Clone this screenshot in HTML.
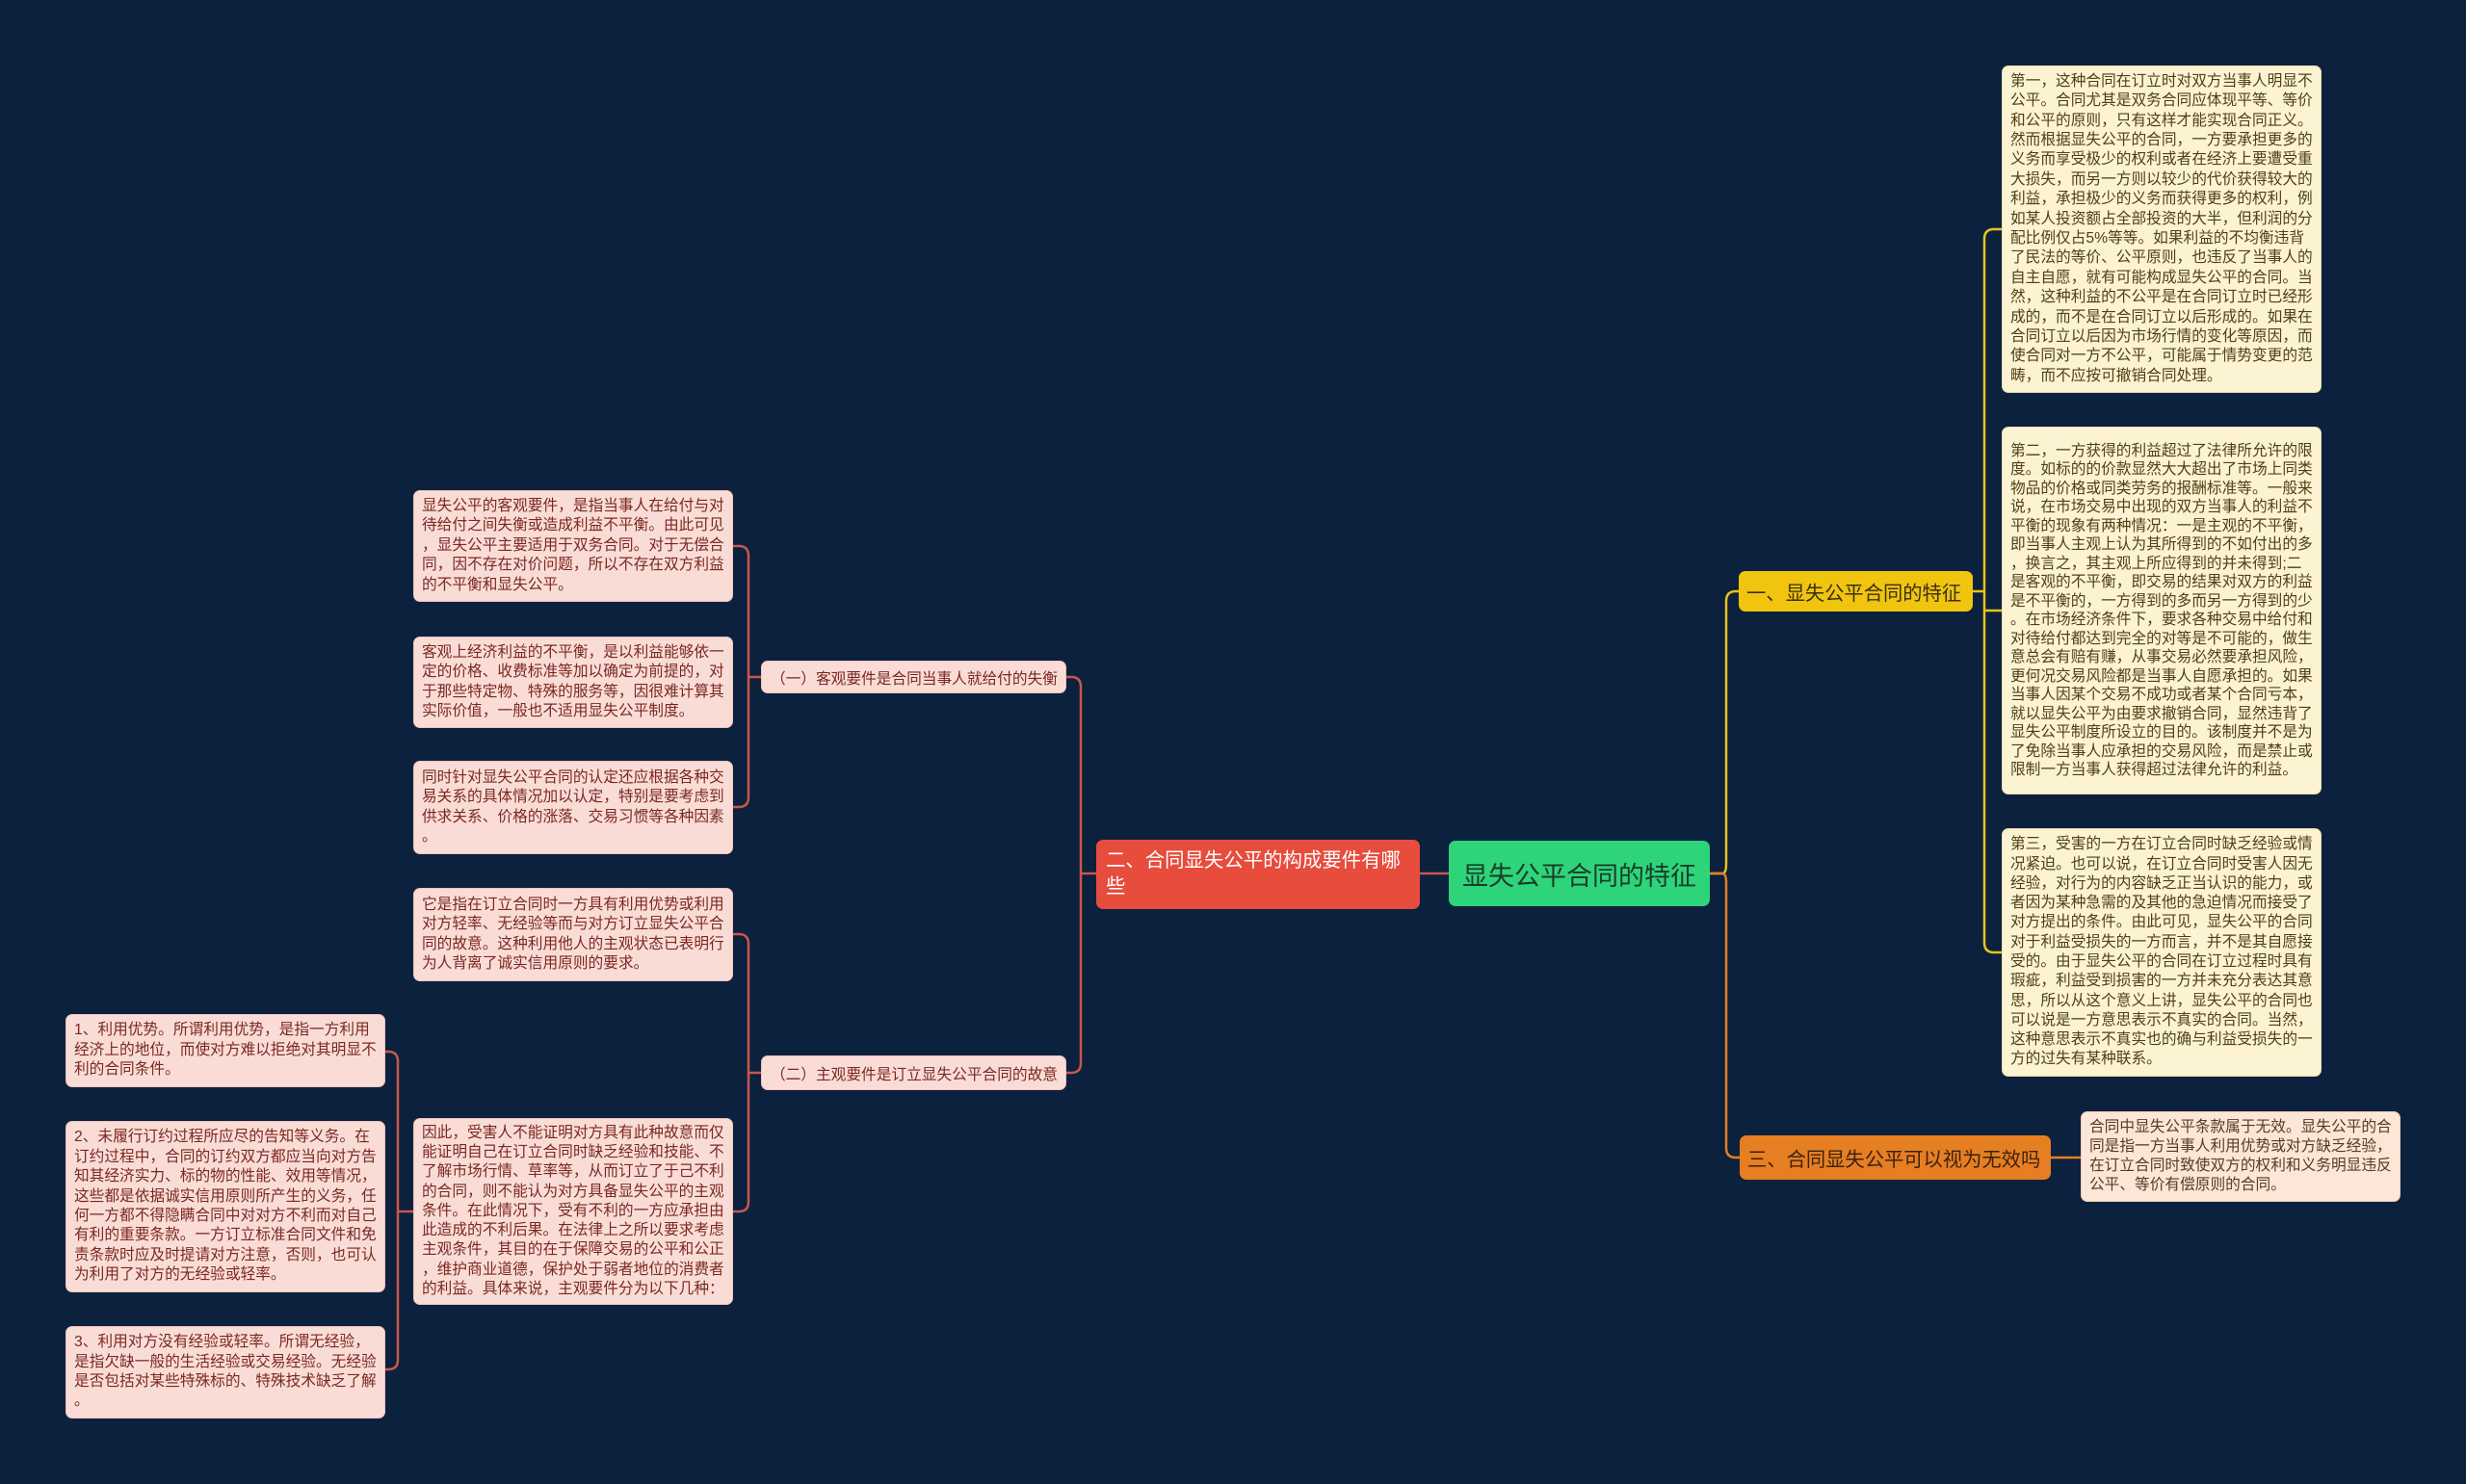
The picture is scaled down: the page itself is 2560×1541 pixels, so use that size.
<!DOCTYPE html>
<html><head><meta charset="utf-8"><style>
body{margin:0;width:2560px;height:1541px;background:#0b213e;position:relative;overflow:hidden;font-family:"Liberation Sans","Noto Sans CJK SC",sans-serif;}
.b{position:absolute;box-sizing:border-box;border-radius:7px;display:flex;flex-direction:column;justify-content:center;white-space:nowrap;font-size:15.7px;padding:0 8px;}
.r{background:#fcf3d2;color:#4f4015;border:1px solid #e8dcae;}
.p{background:#fadcd7;color:#7a2820;border:1px solid #f0c4bd;}
.q{background:#fbe6d8;color:#5a3a20;border:1px solid #eccbb4;}
svg{position:absolute;left:0;top:0}
</style></head><body>
<svg width="2560" height="1541" fill="none" stroke-width="2.5">
<path d="M1775 907 H1788 Q1792 907 1792 897 V624 Q1792 614 1802 614 H1806" stroke="#e8c31a"/>
<path d="M1775 907 H1788 Q1792 907 1792 917 V1192 Q1792 1202 1802 1202 H1806" stroke="#e67e22"/>
<path d="M2048 614 H2060 M2078 238 H2070 Q2060 238 2060 248 V979 Q2060 989 2070 989 H2078 M2060 634 H2078" stroke="#e8c31a"/>
<path d="M2129 1202 H2160" stroke="#e67e22"/>
<path d="M1504 907 H1474" stroke="#c9574b"/>
<path d="M1138 907 H1122 M1107 703 H1112 Q1122 703 1122 713 V1104 Q1122 1114 1112 1114 H1107" stroke="#c9574b"/>
<path d="M790 703 H777 M761 567 H767 Q777 567 777 577 V828 Q777 838 767 838 H761" stroke="#c9574b"/>
<path d="M790 1114 H777 M761 970 H767 Q777 970 777 980 V1248 Q777 1258 767 1258 H761" stroke="#c9574b"/>
<path d="M429 1258 H413 M400 1092 H403 Q413 1092 413 1102 V1412 Q413 1422 403 1422 H400" stroke="#c9574b"/>
</svg>

<div class="b" style="left:1504px;top:873px;width:271px;height:68px;background:#2ed47a;color:#1a3d2a;font-size:27px;align-items:center;">显失公平合同的特征</div>
<div class="b" style="left:1138px;top:872px;width:336px;height:72px;background:#e74c3c;color:#fff;font-size:20.4px;line-height:27px;white-space:normal;padding:0 10px;">二、合同显失公平的构成要件有哪些</div>
<div class="b" style="left:1805px;top:593px;width:243px;height:42px;background:#f1c40f;color:#3a3010;font-size:20.3px;">一、显失公平合同的特征</div>
<div class="b" style="left:1806px;top:1179px;width:323px;height:46px;background:#e67e22;color:#3a2210;font-size:20.3px;">三、合同显失公平可以视为无效吗</div>

<div class="b r" style="left:2078px;top:68px;width:332px;height:340px;line-height:20.4px;">第一，这种合同在订立时对双方当事人明显不<br>公平。合同尤其是双务合同应体现平等、等价<br>和公平的原则，只有这样才能实现合同正义。<br>然而根据显失公平的合同，一方要承担更多的<br>义务而享受极少的权利或者在经济上要遭受重<br>大损失，而另一方则以较少的代价获得较大的<br>利益，承担极少的义务而获得更多的权利，例<br>如某人投资额占全部投资的大半，但利润的分<br>配比例仅占5%等等。如果利益的不均衡违背<br>了民法的等价、公平原则，也违反了当事人的<br>自主自愿，就有可能构成显失公平的合同。当<br>然，这种利益的不公平是在合同订立时已经形<br>成的，而不是在合同订立以后形成的。如果在<br>合同订立以后因为市场行情的变化等原因，而<br>使合同对一方不公平，可能属于情势变更的范<br>畴，而不应按可撤销合同处理。</div>
<div class="b r" style="left:2078px;top:443px;width:332px;height:382px;line-height:19.5px;">第二，一方获得的利益超过了法律所允许的限<br>度。如标的的价款显然大大超出了市场上同类<br>物品的价格或同类劳务的报酬标准等。一般来<br>说，在市场交易中出现的双方当事人的利益不<br>平衡的现象有两种情况：一是主观的不平衡，<br>即当事人主观上认为其所得到的不如付出的多<br>，换言之，其主观上所应得到的并未得到;二<br>是客观的不平衡，即交易的结果对双方的利益<br>是不平衡的，一方得到的多而另一方得到的少<br>。在市场经济条件下，要求各种交易中给付和<br>对待给付都达到完全的对等是不可能的，做生<br>意总会有赔有赚，从事交易必然要承担风险，<br>更何况交易风险都是当事人自愿承担的。如果<br>当事人因某个交易不成功或者某个合同亏本，<br>就以显失公平为由要求撤销合同，显然违背了<br>显失公平制度所设立的目的。该制度并不是为<br>了免除当事人应承担的交易风险，而是禁止或<br>限制一方当事人获得超过法律允许的利益。</div>
<div class="b r" style="left:2078px;top:860px;width:332px;height:258px;line-height:20.3px;">第三，受害的一方在订立合同时缺乏经验或情<br>况紧迫。也可以说，在订立合同时受害人因无<br>经验，对行为的内容缺乏正当认识的能力，或<br>者因为某种急需的及其他的急迫情况而接受了<br>对方提出的条件。由此可见，显失公平的合同<br>对于利益受损失的一方而言，并不是其自愿接<br>受的。由于显失公平的合同在订立过程时具有<br>瑕疵，利益受到损害的一方并未充分表达其意<br>思，所以从这个意义上讲，显失公平的合同也<br>可以说是一方意思表示不真实的合同。当然，<br>这种意思表示不真实也的确与利益受损失的一<br>方的过失有某种联系。</div>
<div class="b q" style="left:2160px;top:1154px;width:332px;height:94px;line-height:20px;">合同中显失公平条款属于无效。显失公平的合<br>同是指一方当事人利用优势或对方缺乏经验，<br>在订立合同时致使双方的权利和义务明显违反<br>公平、等价有偿原则的合同。</div>

<div class="b p" style="left:790px;top:686px;width:317px;height:34px;align-items:flex-end;">（一）客观要件是合同当事人就给付的失衡</div>
<div class="b p" style="left:790px;top:1096px;width:317px;height:36px;align-items:flex-end;">（二）主观要件是订立显失公平合同的故意</div>

<div class="b p" style="left:429px;top:509px;width:332px;height:116px;line-height:20.4px;">显失公平的客观要件，是指当事人在给付与对<br>待给付之间失衡或造成利益不平衡。由此可见<br>，显失公平主要适用于双务合同。对于无偿合<br>同，因不存在对价问题，所以不存在双方利益<br>的不平衡和显失公平。</div>
<div class="b p" style="left:429px;top:661px;width:332px;height:95px;line-height:20.4px;">客观上经济利益的不平衡，是以利益能够依一<br>定的价格、收费标准等加以确定为前提的，对<br>于那些特定物、特殊的服务等，因很难计算其<br>实际价值，一般也不适用显失公平制度。</div>
<div class="b p" style="left:429px;top:790px;width:332px;height:97px;line-height:20.4px;">同时针对显失公平合同的认定还应根据各种交<br>易关系的具体情况加以认定，特别是要考虑到<br>供求关系、价格的涨落、交易习惯等各种因素<br>。</div>
<div class="b p" style="left:429px;top:922px;width:332px;height:97px;line-height:20.4px;">它是指在订立合同时一方具有利用优势或利用<br>对方轻率、无经验等而与对方订立显失公平合<br>同的故意。这种利用他人的主观状态已表明行<br>为人背离了诚实信用原则的要求。</div>
<div class="b p" style="left:429px;top:1161px;width:332px;height:194px;line-height:20.3px;">因此，受害人不能证明对方具有此种故意而仅<br>能证明自己在订立合同时缺乏经验和技能、不<br>了解市场行情、草率等，从而订立了于己不利<br>的合同，则不能认为对方具备显失公平的主观<br>条件。在此情况下，受有不利的一方应承担由<br>此造成的不利后果。在法律上之所以要求考虑<br>主观条件，其目的在于保障交易的公平和公正<br>，维护商业道德，保护处于弱者地位的消费者<br>的利益。具体来说，主观要件分为以下几种：</div>

<div class="b p" style="left:68px;top:1053px;width:332px;height:76px;line-height:20.4px;">1、利用优势。所谓利用优势，是指一方利用<br>经济上的地位，而使对方难以拒绝对其明显不<br>利的合同条件。</div>
<div class="b p" style="left:68px;top:1164px;width:332px;height:178px;line-height:20.4px;">2、未履行订约过程所应尽的告知等义务。在<br>订约过程中，合同的订约双方都应当向对方告<br>知其经济实力、标的物的性能、效用等情况，<br>这些都是依据诚实信用原则所产生的义务，任<br>何一方都不得隐瞒合同中对对方不利而对自己<br>有利的重要条款。一方订立标准合同文件和免<br>责条款时应及时提请对方注意，否则，也可认<br>为利用了对方的无经验或轻率。</div>
<div class="b p" style="left:68px;top:1377px;width:332px;height:96px;line-height:20.4px;">3、利用对方没有经验或轻率。所谓无经验，<br>是指欠缺一般的生活经验或交易经验。无经验<br>是否包括对某些特殊标的、特殊技术缺乏了解<br>。</div>
</body></html>
